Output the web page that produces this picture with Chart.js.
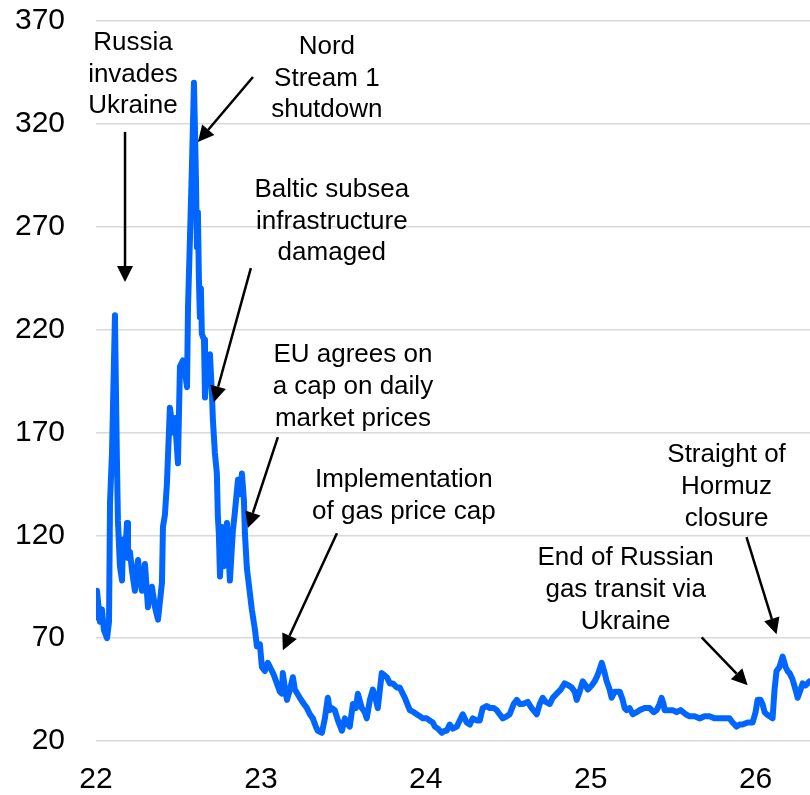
<!DOCTYPE html>
<html>
<head>
<meta charset="utf-8">
<script src="https://cdn.jsdelivr.net/npm/chart.js@4.4.1/dist/chart.umd.min.js"></script>
<style>
  html, body { margin: 0; padding: 0; background: #fff; }
  #wrap { width: 810px; height: 795px; }
</style>
</head>
<body>
<div id="wrap"><canvas id="chartGas" width="810" height="795"></canvas></div>
<script>
// decimal years (22 = Jan 2022) and gas price
const years = [
  22.000, 22.006, 22.012, 22.024, 22.036, 22.048, 22.067, 22.079, 22.085, 22.097,
  22.115, 22.121, 22.127, 22.133, 22.145, 22.158, 22.164, 22.176, 22.188, 22.194,
  22.206, 22.218, 22.236, 22.242, 22.255, 22.267, 22.279, 22.297, 22.315, 22.327,
  22.339, 22.358, 22.376, 22.388, 22.400, 22.406, 22.418, 22.430, 22.448, 22.467,
  22.479, 22.497, 22.509, 22.527, 22.539, 22.552, 22.558, 22.570, 22.582, 22.594,
  22.600, 22.606, 22.612, 22.618, 22.624, 22.630, 22.636, 22.642, 22.655, 22.661,
  22.673, 22.691, 22.703, 22.709, 22.721, 22.733, 22.739, 22.745, 22.752, 22.764,
  22.776, 22.794, 22.812, 22.830, 22.842, 22.861, 22.873, 22.885, 22.897, 22.903,
  22.915, 22.933, 22.945, 22.964, 22.976, 22.994,
  23.006, 23.024, 23.042, 23.055, 23.079, 23.097, 23.115, 23.127, 23.133, 23.145,
  23.158, 23.176, 23.194, 23.206, 23.236, 23.261, 23.279, 23.297, 23.315, 23.333,
  23.345, 23.370, 23.388, 23.406, 23.418, 23.430, 23.448, 23.467, 23.491, 23.509,
  23.527, 23.539, 23.558, 23.576, 23.588, 23.612, 23.630, 23.642, 23.661, 23.679,
  23.697, 23.709, 23.733, 23.764, 23.782, 23.800, 23.824, 23.842, 23.873, 23.903,
  23.927, 23.945, 23.964, 23.982,
  24.006, 24.024, 24.042, 24.055, 24.073, 24.097, 24.115, 24.127, 24.145, 24.164,
  24.188, 24.206, 24.224, 24.248, 24.267, 24.285, 24.309, 24.327, 24.345, 24.370,
  24.388, 24.412, 24.430, 24.448, 24.467, 24.491, 24.509, 24.533, 24.552, 24.570,
  24.588, 24.618, 24.642, 24.673, 24.691, 24.709, 24.727, 24.752, 24.770, 24.794,
  24.818, 24.842, 24.867, 24.885, 24.903, 24.915, 24.933, 24.952, 24.970, 24.982,
  25.006, 25.024, 25.042, 25.067, 25.085, 25.097, 25.115, 25.127, 25.145, 25.176,
  25.194, 25.206, 25.218, 25.236, 25.255, 25.279, 25.297, 25.327, 25.358, 25.382,
  25.400, 25.418, 25.430, 25.442, 25.448, 25.467, 25.497, 25.521, 25.545, 25.576,
  25.600, 25.630, 25.661, 25.691, 25.721, 25.752, 25.782, 25.812, 25.842, 25.861,
  25.885, 25.903, 25.921, 25.952, 25.982,
  26.000, 26.012, 26.030, 26.042, 26.055, 26.067, 26.085, 26.103, 26.115, 26.127,
  26.145, 26.164, 26.182, 26.194, 26.206, 26.224, 26.242, 26.255, 26.273, 26.285,
  26.303, 26.327
];

const prices = [
  80, 93, 88, 78, 84, 74, 70, 78, 136, 160,
  227, 190, 156, 127, 105, 98, 118, 110, 126, 109,
  112, 103, 93, 100, 108, 98, 93, 106, 85, 92,
  95, 85, 79, 88, 97, 124, 130, 145, 182, 170,
  177, 155, 202, 205, 200, 192, 231, 265, 300, 340,
  318, 294, 260, 277, 245, 226, 240, 218, 215, 187,
  205, 208, 189, 176, 160, 150, 129, 121, 100, 124,
  105, 126, 98, 122, 131, 147, 140, 150, 137, 121,
  104, 92, 84, 74, 66, 67,
  56, 54, 58, 56, 52, 48, 44, 43, 53, 46,
  40, 45, 51, 45, 41, 38, 36, 33, 31, 27,
  25, 24, 31, 41, 35, 36, 35, 30, 25, 31,
  28, 27, 38, 36, 43, 36, 34, 31, 40, 45,
  40, 36, 53, 51, 48, 48, 46, 46, 41, 35,
  34, 33, 32, 31,
  31, 30, 29, 27, 26, 24, 25, 25, 28, 26,
  27, 30, 33, 29, 28, 31, 30, 30, 36, 37,
  36, 36, 35, 33, 31, 32, 33, 38, 40, 38,
  38, 39, 36, 33, 38, 41, 39, 38, 41, 43,
  45, 48, 47, 46, 44, 40, 44, 49, 47, 45,
  47, 49, 52, 58, 53, 49, 45, 41, 44, 44,
  40, 36, 35, 36, 33, 34, 35, 36, 36, 34,
  35, 38, 41, 38, 35, 35, 35, 34, 35, 33,
  32, 32, 31, 32, 32, 31, 31, 31, 31, 29,
  27, 28, 28, 29, 29,
  34, 40, 40, 38, 34, 33, 32, 31, 45, 54,
  56, 61, 56, 54, 53, 50, 45, 41, 45, 48,
  47, 49
];

const yearTicks = [22, 23, 24, 25, 26];

// text and arrows, placed in data units (year, price)
const notes = [
  { lines: ["Russia", "invades", "Ukraine"], at: [22.224, 359.4], from: [22.176, 316.1], to: [22.176, 243.1] },
  { lines: ["Nord", "Stream 1", "shutdown"], at: [23.400, 357.4], from: [22.952, 342.8], to: [22.618, 311.2] },
  { lines: ["Baltic subsea", "infrastructure", "damaged"], at: [23.430, 287.9], from: [22.939, 249.9], to: [22.715, 184.7] },
  { lines: ["EU agrees on", "a cap on daily", "market prices"], at: [23.558, 207.6], from: [23.103, 167.7], to: [22.921, 123.5] },
  { lines: ["Implementation", "of gas price cap"], at: [23.867, 146.8], from: [23.461, 121.0], to: [23.133, 64.1] },
  { lines: ["End of Russian", "gas transit via", "Ukraine"], at: [25.212, 108.9], from: [25.673, 70.4], to: [25.952, 47.1] },
  { lines: ["Straight of", "Hormuz", "closure"], at: [25.824, 159.0], from: [25.945, 119.1], to: [26.127, 71.9] },
];

const FONT = "'Liberation Sans', Arial, sans-serif";

function drawArrow(ctx, x1, y1, x2, y2) {
  const ang = Math.atan2(y2 - y1, x2 - x1);
  const headLen = 16;
  const headHalf = 8;
  const bx = x2 - headLen * Math.cos(ang);
  const by = y2 - headLen * Math.sin(ang);
  ctx.beginPath();
  ctx.moveTo(x1, y1);
  ctx.lineTo(bx, by);
  ctx.stroke();
  ctx.beginPath();
  ctx.moveTo(x2, y2);
  ctx.lineTo(bx + headHalf * Math.sin(ang), by - headHalf * Math.cos(ang));
  ctx.lineTo(bx - headHalf * Math.sin(ang), by + headHalf * Math.cos(ang));
  ctx.closePath();
  ctx.fill();
}

const notesPlugin = {
  id: "notes",
  afterDraw(chart) {
    const { ctx, scales } = chart;
    const xs = scales.x, ys = scales.y;
    ctx.save();
    ctx.fillStyle = "#000";
    ctx.strokeStyle = "#000";
    ctx.lineWidth = 2.5;
    ctx.font = `26px ${FONT}`;
    ctx.textAlign = "center";
    ctx.textBaseline = "middle";
    notes.forEach((n) => {
      const cx = xs.getPixelForValue(n.at[0]);
      const cy = ys.getPixelForValue(n.at[1]);
      n.lines.forEach((t, i) => ctx.fillText(t, cx, cy + i * 31.7));
      drawArrow(
        ctx,
        xs.getPixelForValue(n.from[0]), ys.getPixelForValue(n.from[1]),
        xs.getPixelForValue(n.to[0]), ys.getPixelForValue(n.to[1])
      );
    });
    ctx.restore();
  },
};

new Chart(document.getElementById("chartGas").getContext("2d"), {
  type: "line",
  data: {
    datasets: [{
      data: years.map((x, i) => ({ x, y: prices[i] })),
      borderColor: "#0066ff",
      borderWidth: 6,
      borderCapStyle: "round",
      borderJoinStyle: "round",
      pointRadius: 0,
      tension: 0,
      fill: false,
    }],
  },
  options: {
    responsive: false,
    animation: false,
    layout: { padding: { top: 21, right: 0, left: 0, bottom: 0 } },
    plugins: { legend: { display: false }, tooltip: { enabled: false } },
    scales: {
      x: {
        type: "linear",
        min: 22,
        max: 26.33,
        afterBuildTicks: (s) => { s.ticks = yearTicks.map((v) => ({ value: v })); },
        afterFit: (s) => { s.height = 54; s.paddingLeft = 0; s.paddingRight = 0; },
        grid: { display: false, drawTicks: false },
        border: { display: false },
        ticks: {
          color: "#000",
          padding: 21,
          maxRotation: 0,
          autoSkip: false,
          font: { family: FONT, size: 30 },
          callback: (v) => String(v),
        },
      },
      y: {
        min: 20,
        max: 370,
        afterFit: (s) => { s.width = 96; s.paddingTop = 0; s.paddingBottom = 0; },
        grid: { color: "#d9d9d9", lineWidth: 1.5, drawTicks: false },
        border: { display: false },
        ticks: {
          stepSize: 50,
          color: "#000",
          padding: 31,
          font: { family: FONT, size: 30 },
        },
      },
    },
  },
  plugins: [notesPlugin],
});
</script>
</body>
</html>
